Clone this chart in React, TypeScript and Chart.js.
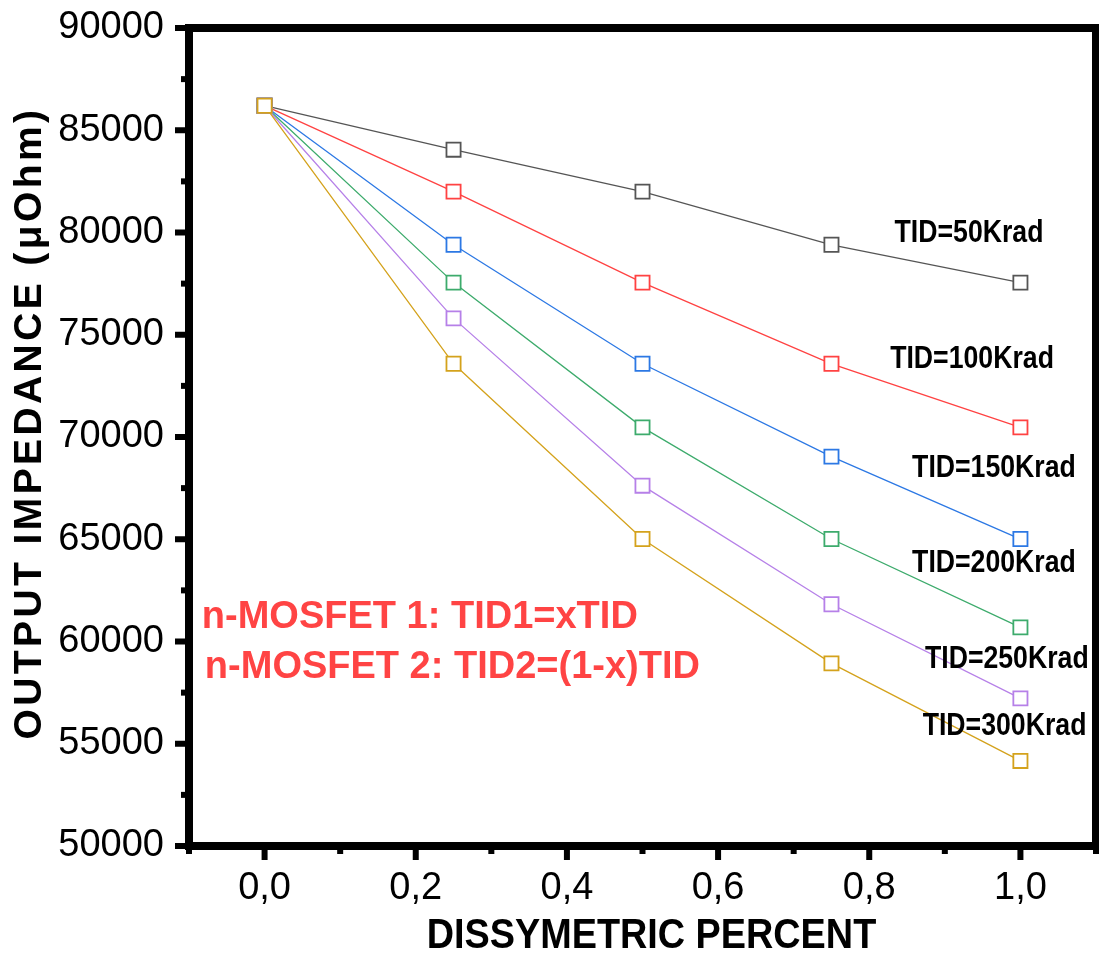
import React, { useEffect, useRef } from "react";
import { Chart, registerables } from "chart.js";

Chart.register(...registerables);

// ---- data ----
const xValues = [0, 0.25, 0.5, 0.75, 1.0];
const seriesNames = ["TID=50Krad", "TID=100Krad", "TID=150Krad", "TID=200Krad", "TID=250Krad", "TID=300Krad"];
const tid50 = [86200, 84050, 82000, 79400, 77550];
const tid100 = [86200, 82000, 77550, 73580, 70470];
const tid150 = [86200, 79400, 73580, 69040, 65010];
const tid200 = [86200, 77550, 70470, 65010, 60690];
const tid250 = [86200, 75800, 67620, 61820, 57220];
const tid300 = [86200, 73580, 65010, 58930, 54160];
const seriesValues = [tid50, tid100, tid150, tid200, tid250, tid300];
const xTickValues = [0, 0.2, 0.4, 0.6, 0.8, 1.0];
const xMinorTicks = [-0.1, 0.1, 0.3, 0.5, 0.7, 0.9, 1.1];
const yTickValues = [50000, 55000, 60000, 65000, 70000, 75000, 80000, 85000, 90000];
const yMinorTicks = [52500, 57500, 62500, 67500, 72500, 77500, 82500, 87500];
const xTitle = "DISSYMETRIC PERCENT";
const yTitle = "OUTPUT IMPEDANCE (\u03bcOhm)";
const noteLines = ["n-MOSFET 1: TID1=xTID", "n-MOSFET 2: TID2=(1-x)TID"];

// ---- styling / layout (kept separate from data) ----
const colors = ["#555555", "#ff4242", "#2c78e4", "#3dab6c", "#b680e8", "#d4a21c"];
const labelAnchorX = [0.932, 0.936, 0.965, 0.965, 0.982, 0.979];
const labelAnchorY = [79535, 73374, 68044, 63398, 58704, 55428];
const noteAnchorX = [-0.083, -0.079];
const noteAnchorY = [60660, 58215];
const FONT = "'Liberation Sans', Arial, Helvetica, sans-serif";

const decorPlugin = {
  id: "decor",
  afterDraw(chart: any) {
    const { ctx, chartArea: a, scales } = chart;
    const xs = scales.x;
    const ys = scales.y;
    ctx.save();
    // frame
    ctx.strokeStyle = "#000";
    ctx.lineWidth = 8;
    ctx.strokeRect(a.left, a.top, a.right - a.left, a.bottom - a.top);
    ctx.fillStyle = "#000";
    // y ticks (outward)
    yTickValues.forEach((v) => {
      const py = ys.getPixelForValue(v);
      ctx.fillRect(a.left - 14, py - 3, 10, 6);
    });
    yMinorTicks.forEach((v) => {
      const py = ys.getPixelForValue(v);
      ctx.fillRect(a.left - 8, py - 3, 4, 6);
    });
    // x ticks (outward)
    xTickValues.forEach((v) => {
      const px = xs.getPixelForValue(v);
      ctx.fillRect(px - 3, a.bottom + 4, 6, 10);
    });
    xMinorTicks.forEach((v) => {
      const px = xs.getPixelForValue(v);
      ctx.fillRect(px - 3, a.bottom + 4, 6, 4);
    });

    // series labels
    ctx.fillStyle = "#000";
    ctx.textAlign = "center";
    ctx.textBaseline = "alphabetic";
    ctx.font = `bold 31px ${FONT}`;
    seriesNames.forEach((name, i) => {
      const px = xs.getPixelForValue(labelAnchorX[i]);
      const py = ys.getPixelForValue(labelAnchorY[i]);
      ctx.save();
      ctx.translate(px, py);
      ctx.scale(0.86, 1);
      ctx.fillText(name, 0, 0);
      ctx.restore();
    });

    // red note
    ctx.fillStyle = "#ff4444";
    ctx.textAlign = "left";
    ctx.font = `bold 38px ${FONT}`;
    noteLines.forEach((t, i) => {
      ctx.fillText(t, xs.getPixelForValue(noteAnchorX[i]), ys.getPixelForValue(noteAnchorY[i]));
    });

    // x title
    ctx.fillStyle = "#000";
    ctx.textAlign = "center";
    ctx.font = `bold 42px ${FONT}`;
    ctx.save();
    ctx.translate((a.left + a.right) / 2 + 9, 948);
    ctx.scale(0.9, 1);
    ctx.fillText(xTitle, 0, 0);
    ctx.restore();

    // y title
    ctx.save();
    ctx.translate(30, (a.top + a.bottom) / 2 - 14);
    ctx.rotate(-Math.PI / 2);
    ctx.font = `bold 39px ${FONT}`;
    ctx.textBaseline = "middle";
    (ctx as any).letterSpacing = "3.4px";
    ctx.fillText(yTitle, 0, 0);
    ctx.restore();

    ctx.restore();
  },
};

export default function App() {
  const ref = useRef<HTMLCanvasElement | null>(null);

  useEffect(() => {
    document.body.style.margin = "0";
    const canvas = ref.current;
    if (!canvas) return;
    const datasets = seriesNames.map((name, i) => ({
      label: name,
      data: xValues.map((x, j) => ({ x, y: seriesValues[i][j] })),
      borderColor: colors[i],
      backgroundColor: "#ffffff",
      borderWidth: 1.3,
      pointStyle: "rect",
      pointRadius: 10,
      pointHoverRadius: 10,
      pointBorderWidth: 1.8,
      pointBorderColor: colors[i],
      pointBackgroundColor: "#ffffff",
      tension: 0,
      order: seriesNames.length - 1 - i,
    }));
    const chart = new Chart(canvas, {
      type: "line",
      data: { datasets },
      options: {
        animation: false,
        responsive: false,
        maintainAspectRatio: false,
        devicePixelRatio: 1,
        layout: { autoPadding: false, padding: { top: 28, right: 3, left: 0, bottom: 0 } },
        plugins: {
          legend: { display: false },
          tooltip: { enabled: false },
        },
        scales: {
          x: {
            type: "linear",
            min: -0.1,
            max: 1.1,
            grid: { display: false, drawTicks: false },
            border: { display: false },
            afterBuildTicks: (s: any) => {
              s.ticks = xTickValues.map((v) => ({ value: v }));
            },
            afterFit: (s: any) => {
              s.height = 108;
              s.paddingLeft = 0;
              s.paddingRight = 0;
              s.paddingTop = 0;
              s.paddingBottom = 0;
            },
            ticks: {
              autoSkip: false,
              maxRotation: 0,
              padding: 20,
              color: "#000",
              font: { family: FONT, size: 38 },
              callback: (v: any) => Number(v).toFixed(1).replace(".", ","),
            },
          },
          y: {
            type: "linear",
            min: 50000,
            max: 90000,
            grid: { display: false, drawTicks: false },
            border: { display: false },
            afterBuildTicks: (s: any) => {
              s.ticks = yTickValues.map((v) => ({ value: v }));
            },
            afterFit: (s: any) => {
              s.width = 189;
              s.paddingLeft = 0;
              s.paddingRight = 0;
              s.paddingTop = 0;
              s.paddingBottom = 0;
            },
            ticks: {
              padding: 25,
              color: "#000",
              font: { family: FONT, size: 38 },
              callback: (v: any) => String(v),
            },
          },
        },
      },
      plugins: [decorPlugin],
    } as any);
    return () => chart.destroy();
  }, []);

  return <canvas ref={ref} width={1099} height={954} style={{ display: "block" }} />;
}
